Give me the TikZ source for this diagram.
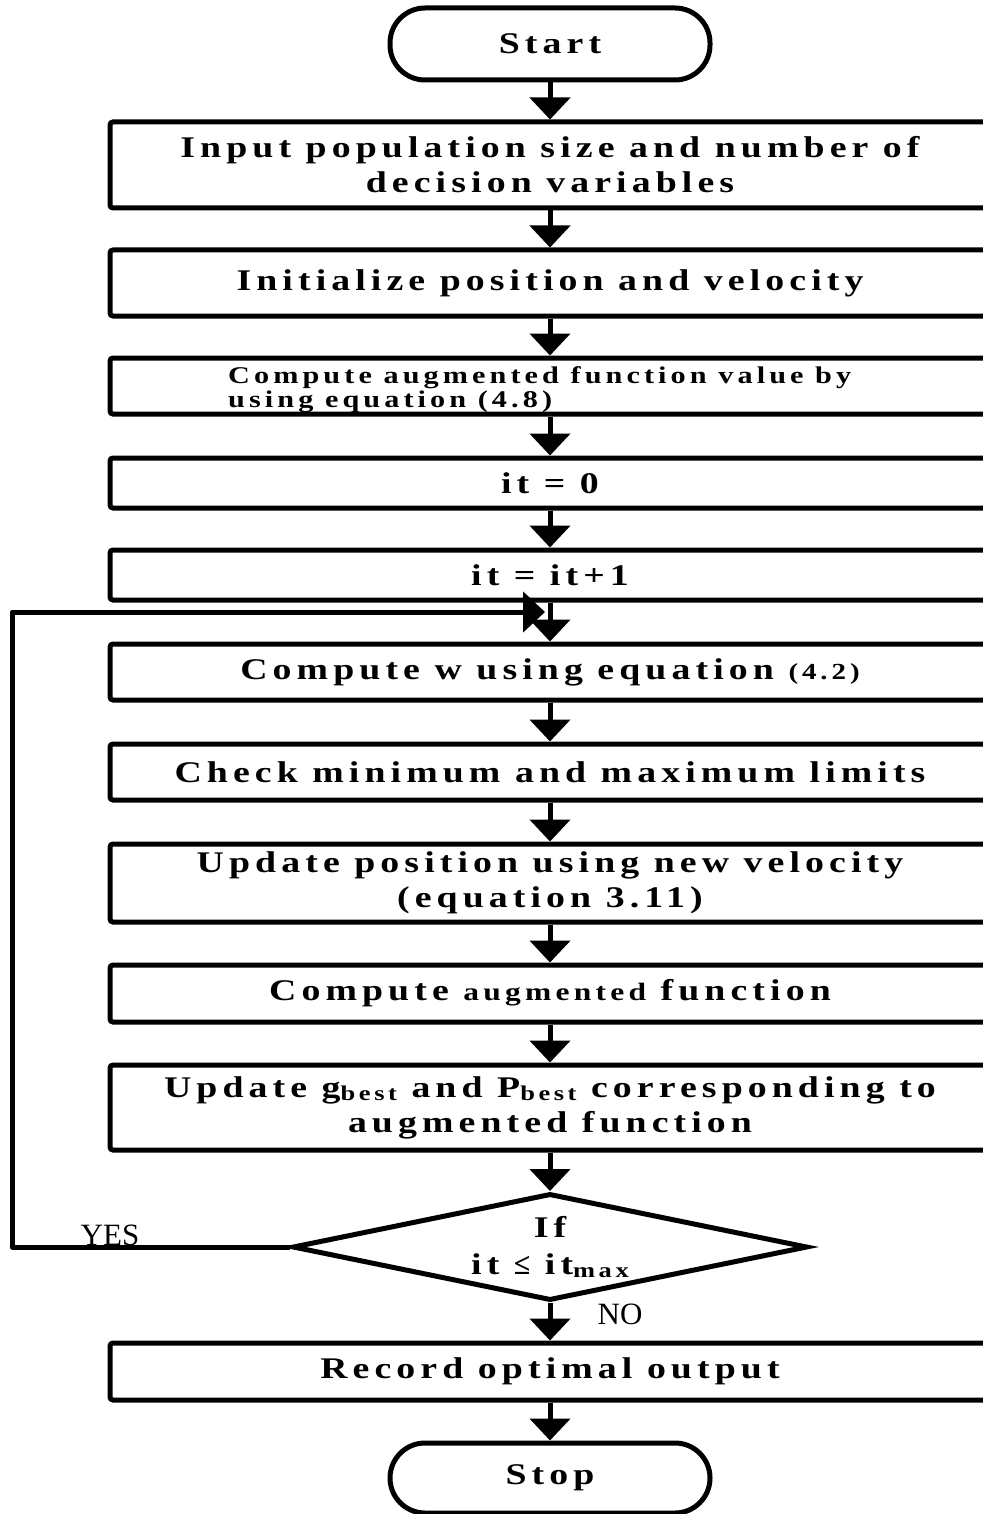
\documentclass[tikz,border=0pt]{standalone}
\usepackage{fontspec}
\setmainfont{Liberation Serif}
\newfontfamily\lsfont{Liberation Serif}[LetterSpace=17,FakeStretch=1.26]
\newfontfamily\plainfont{Liberation Serif}
\usetikzlibrary{arrows.meta,shapes.geometric}
\newcommand{\sbt}[1]{\raisebox{-3pt}{\fontsize{21}{21}\selectfont #1}}
\begin{document}
\begin{tikzpicture}[x=1pt,y=-1pt,
  every node/.style={font=\lsfont\bfseries\fontsize{30}{35}\selectfont},
  proc/.style={draw,line width=5pt,rounded corners=3pt,minimum width=880pt,inner sep=0pt,align=center},
  term/.style={draw,line width=5pt,rounded corners=35pt,minimum width=320pt,inner sep=0pt},
  dec/.style={draw,diamond,aspect=4.81,line width=5pt,minimum width=515pt,minimum height=107pt,inner sep=0pt,align=center},
  arr/.style={line width=5pt,-{Triangle[length=22pt,width=40pt]}},
  lbl/.style={font=\plainfont\fontsize{31}{31}\selectfont}]
\useasboundingbox (0,0) rectangle (982,1514);
\node[term,minimum height=72pt] (start) at (550,44) {Start};
\node[proc,minimum height=86pt] (b1) at (550,165) {Input population size and number of\\decision variables};
\node[proc,minimum height=66pt] (b2) at (550,283) {Initialize position and velocity};
\node[proc,minimum height=56pt] (b3) at (550,386) {};
\node[anchor=west,align=left,inner sep=0pt,font=\lsfont\bfseries\fontsize{24}{24}\selectfont] (b3t) at (228,390) {Compute augmented function value by\\using equation (4.8)};
\node[proc,minimum height=50pt] (b4) at (550,483) {it = 0};
\node[proc,minimum height=50pt] (b5) at (550,575) {it = it+1};
\node[proc,minimum height=56pt] (b6) at (550,672) {Compute w using equation {\fontsize{23}{23}\selectfont(4.2)}};
\node[proc,minimum height=56pt] (b7) at (550,772) {Check minimum and maximum limits};
\node[proc,minimum height=78pt] (b8) at (550,883) {Update position using new velocity\\(equation 3.11)};
\node[proc,minimum height=57pt] (b9) at (550,993.5) {Compute {\fontsize{25}{25}\selectfont augmented} function};
\node[proc,minimum height=85pt] (b10) at (550,1107.5) {Update g\sbt{best} and P\sbt{best} corresponding to\\augmented function};
\node[dec] (d) at (550,1247) {If\\[2pt]it {\plainfont\bfseries ≤} it\sbt{max}};
\node[proc,minimum height=57pt] (b11) at (550,1371.5) {Record optimal output};
\node[term,minimum height=70pt] (stop) at (550,1478) {Stop};
\coordinate (lc) at (12,612);
\coordinate (lm) at (545,612);
\draw[arr] (start) -- (b1);
\draw[arr] (b1) -- (b2);
\draw[arr] (b2) -- (b3);
\draw[arr] (b3) -- (b4);
\draw[arr] (b4) -- (b5);
\draw[arr] (b5) -- (b6);
\draw[arr] (b6) -- (b7);
\draw[arr] (b7) -- (b8);
\draw[arr] (b8) -- (b9);
\draw[arr] (b9) -- (b10);
\draw[arr] (b10) -- (d);
\draw[arr] (d) -- (b11);
\draw[arr] (b11) -- (stop);
\draw[arr,line join=round] (d.west) -| (lc) -- (lm);
\node[lbl,anchor=base] (yes) at (110,1245) {YES};
\node[lbl,anchor=base] (no) at (620,1324) {NO};
\end{tikzpicture}
\end{document}
